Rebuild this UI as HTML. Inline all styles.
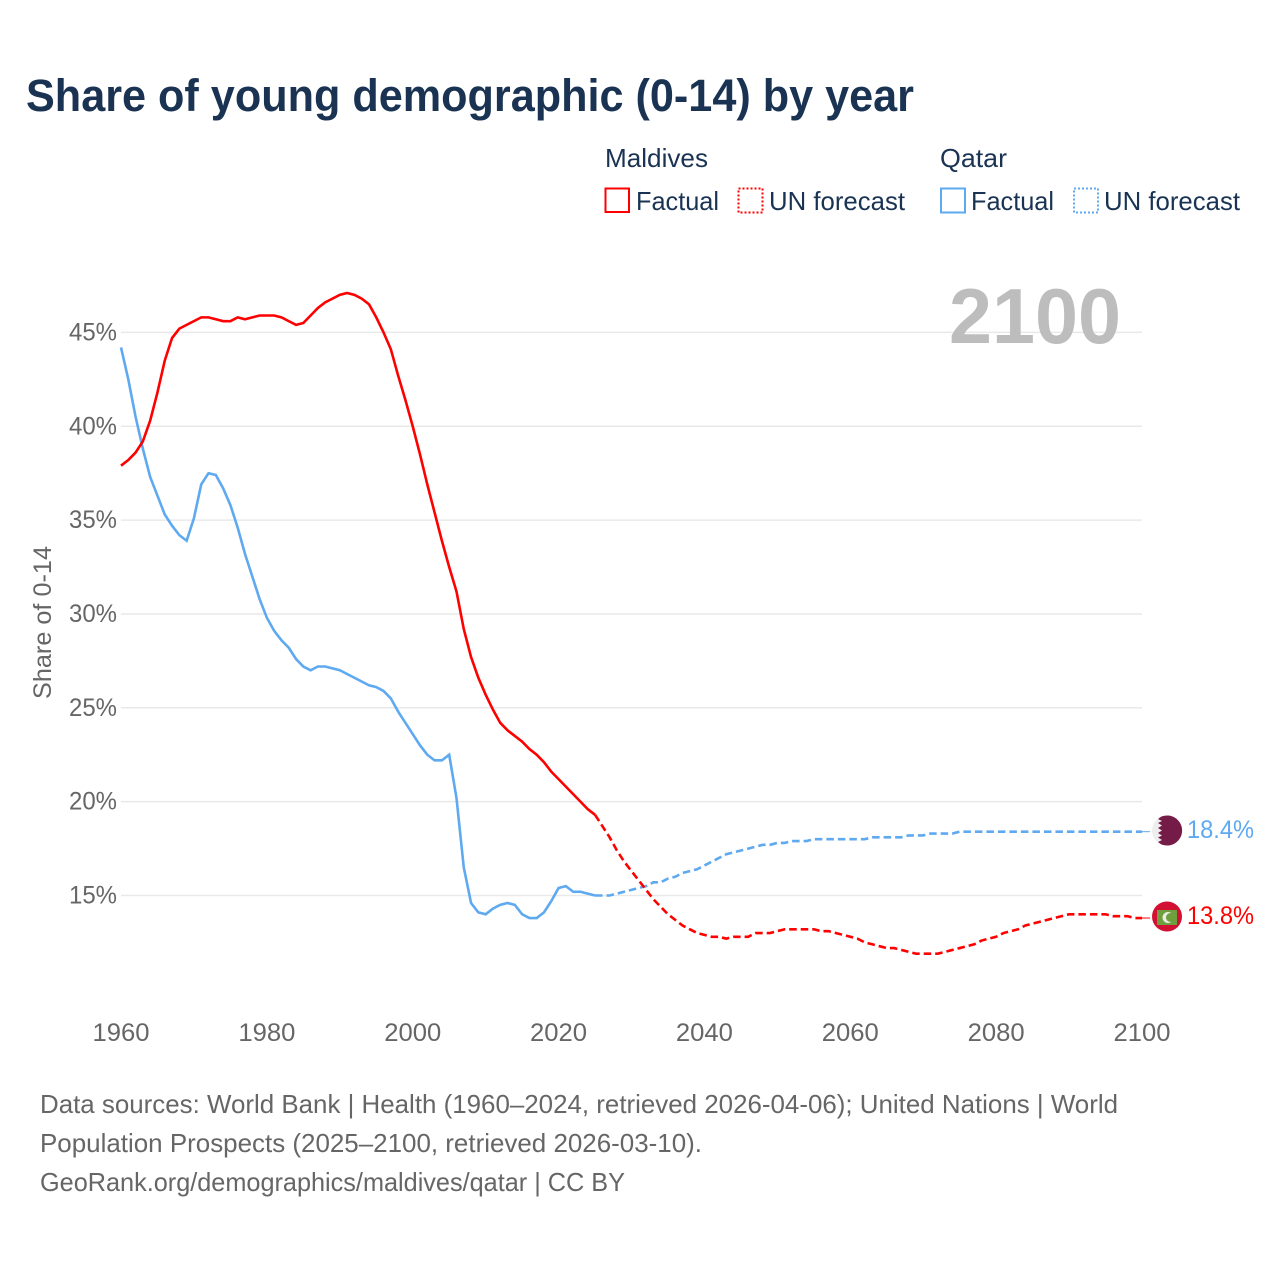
<!DOCTYPE html>
<html lang="en">
<head>
<meta charset="utf-8">
<title>Share of young demographic (0-14) by year</title>
<style>
html,body{margin:0;padding:0;background:#fff}
svg{display:block}
text{font-family:"Liberation Sans",sans-serif}
</style>
</head>
<body>
<svg id="chart" xmlns="http://www.w3.org/2000/svg" width="1280" height="1280" viewBox="0 0 1280 1280">
  <rect x="0" y="0" width="1280" height="1280" fill="#ffffff"/>
  <text x="26" y="111" font-size="45" font-weight="700" fill="#1a3353" textLength="888" lengthAdjust="spacingAndGlyphs">Share of young demographic (0-14) by year</text>

  <g>
    <text x="605" y="167" font-size="26" fill="#1a3353" textLength="103" lengthAdjust="spacingAndGlyphs">Maldives</text>
    <rect x="605.500" y="188.500" width="23.500" height="23.500" fill="none" stroke="#ff0000" stroke-width="2"/>
    <text x="636" y="210" font-size="26" fill="#1a3353" textLength="83" lengthAdjust="spacingAndGlyphs">Factual</text>
    <rect x="738.500" y="188.500" width="24" height="24" fill="none" stroke="#ff0000" stroke-width="2" stroke-dasharray="2 2"/>
    <text x="769" y="210" font-size="26" fill="#1a3353" textLength="136" lengthAdjust="spacingAndGlyphs">UN forecast</text>

    <text x="940" y="167" font-size="26" fill="#1a3353" textLength="67" lengthAdjust="spacingAndGlyphs">Qatar</text>
    <rect x="941" y="188.500" width="24" height="24" fill="none" stroke="#5ea9f0" stroke-width="2"/>
    <text x="971" y="210" font-size="26" fill="#1a3353" textLength="83" lengthAdjust="spacingAndGlyphs">Factual</text>
    <rect x="1074" y="188.500" width="24" height="24" fill="none" stroke="#5ea9f0" stroke-width="2" stroke-dasharray="2 2"/>
    <text x="1104" y="210" font-size="26" fill="#1a3353" textLength="136" lengthAdjust="spacingAndGlyphs">UN forecast</text>
  </g>

  <g id="grid"></g>
  <g id="yticks"></g>
  <g id="xticks"></g>

  <text transform="translate(51,699) rotate(-90)" font-size="25" fill="#666666" textLength="153" lengthAdjust="spacingAndGlyphs">Share of 0-14</text>
  <text x="949" y="343" font-size="78" font-weight="700" fill="#bdbdbd" textLength="172" lengthAdjust="spacingAndGlyphs">2100</text>

  <g id="series"></g>

  <g>
    <circle cx="1167" cy="830.500" r="15" fill="#eeeeee"/>
    <path d="M1161 816.800 A15 15 0 1 1 1161 844.200 L1158 842 L1162 840 L1158 837.500 L1162 835.500 L1158 833 L1162 830.500 L1158 828 L1162 825.500 L1158 823 L1162 821 L1158 819 Z" fill="#741b47"/>
  </g>
  <text x="1187" y="838" font-size="25" fill="#5ea9f0" textLength="67" lengthAdjust="spacingAndGlyphs">18.4%</text>

  <g>
    <circle cx="1167" cy="916.500" r="15" fill="#d21034"/>
    <rect x="1157" y="910" width="20" height="15" fill="#6f9e3f"/>
    <circle cx="1168" cy="917.500" r="5.500" fill="#e8eee0"/>
    <circle cx="1170.500" cy="917.500" r="4.500" fill="#6f9e3f"/>
  </g>
  <text x="1187" y="924" font-size="25" fill="#ff0000" textLength="67" lengthAdjust="spacingAndGlyphs">13.8%</text>

  <g>
    <text x="40" y="1113" font-size="26" fill="#666666" textLength="1078" lengthAdjust="spacingAndGlyphs">Data sources: World Bank | Health (1960–2024, retrieved 2026-04-06); United Nations | World</text>
    <text x="40" y="1152" font-size="26" fill="#666666" textLength="662" lengthAdjust="spacingAndGlyphs">Population Prospects (2025–2100, retrieved 2026-03-10).</text>
    <text x="40" y="1191" font-size="26" fill="#666666" textLength="585" lengthAdjust="spacingAndGlyphs">GeoRank.org/demographics/maldives/qatar | CC BY</text>
  </g>
</svg>
<script>
const yTickValues = [15, 20, 25, 30, 35, 40, 45];
const xTickYears = [1960, 1980, 2000, 2020, 2040, 2060, 2080, 2100];
const factualStartYear = 1960;
const forecastStartYear = 2025;

const maldivesFactual = [
  37.9,38.2,38.6,39.2,40.3,41.8,43.5,44.7,45.2,45.4,
  45.6,45.8,45.8,45.7,45.6,45.6,45.8,45.7,45.8,45.9,
  45.9,45.9,45.8,45.6,45.4,45.5,45.9,46.3,46.6,46.8,
  47.0,47.1,47.0,46.8,46.5,45.8,45.0,44.1,42.7,41.4,
  40.0,38.5,36.9,35.4,33.9,32.5,31.2,29.2,27.7,26.6,
  25.7,24.9,24.2,23.8,23.5,23.2,22.8,22.5,22.1,21.6,
  21.2,20.8,20.4,20.0,19.6,19.3
];
const maldivesForecast = [
  19.3,18.7,18.1,17.4,16.8,16.3,15.8,15.3,14.8,14.4,
  14.0,13.7,13.4,13.2,13.0,12.9,12.8,12.8,12.7,12.8,
  12.8,12.8,13.0,13.0,13.0,13.1,13.2,13.2,13.2,13.2,
  13.2,13.1,13.1,13.0,12.9,12.8,12.7,12.5,12.4,12.3,
  12.2,12.2,12.1,12.0,11.9,11.9,11.9,11.9,12.0,12.1,
  12.2,12.3,12.4,12.6,12.7,12.8,13.0,13.1,13.2,13.4,
  13.5,13.6,13.7,13.8,13.9,14.0,14.0,14.0,14.0,14.0,
  14.0,13.9,13.9,13.9,13.8,13.8
];
const qatarFactual = [
  44.2,42.5,40.5,38.8,37.3,36.3,35.3,34.7,34.2,33.9,
  35.1,36.9,37.5,37.4,36.7,35.8,34.6,33.2,32.0,30.8,
  29.8,29.1,28.6,28.2,27.6,27.2,27.0,27.2,27.2,27.1,
  27.0,26.8,26.6,26.4,26.2,26.1,25.9,25.5,24.8,24.2,
  23.6,23.0,22.5,22.2,22.2,22.5,20.2,16.5,14.6,14.1,
  14.0,14.3,14.5,14.6,14.5,14.0,13.8,13.8,14.1,14.7,
  15.4,15.5,15.2,15.2,15.1,15.0
];
const qatarForecast = [
  15.0,15.0,15.0,15.1,15.2,15.3,15.4,15.5,15.7,15.7,
  15.9,16.0,16.2,16.3,16.4,16.6,16.8,17.0,17.2,17.3,
  17.4,17.5,17.6,17.7,17.7,17.8,17.8,17.9,17.9,17.9,
  18.0,18.0,18.0,18.0,18.0,18.0,18.0,18.0,18.1,18.1,
  18.1,18.1,18.1,18.2,18.2,18.2,18.3,18.3,18.3,18.3,
  18.4,18.4,18.4,18.4,18.4,18.4,18.4,18.4,18.4,18.4,
  18.4,18.4,18.4,18.4,18.4,18.4,18.4,18.4,18.4,18.4,
  18.4,18.4,18.4,18.4,18.4,18.4
];

const NS = 'http://www.w3.org/2000/svg';
const PLOT_LEFT = 121;
const PLOT_RIGHT = 1142;
function xScale(year) {
  return PLOT_LEFT + (year - 1960) * (PLOT_RIGHT - PLOT_LEFT) / 140;
}
function yScale(value) {
  return 895.5 - (value - 15) * 18.77;
}
function pathFrom(values, startYear) {
  return values.map(function (v, i) {
    return (i ? 'L' : 'M') + xScale(startYear + i).toFixed(2) + ' ' + yScale(v).toFixed(2);
  }).join(' ');
}

const gridGroup = document.getElementById('grid');
const yTickGroup = document.getElementById('yticks');
yTickValues.forEach(function (v) {
  const line = document.createElementNS(NS, 'line');
  
  
  line.setAttribute('x1', PLOT_LEFT);
  line.setAttribute('x2', PLOT_RIGHT);
  line.setAttribute('y1', yScale(v));
  line.setAttribute('y2', yScale(v));
  line.setAttribute('stroke', '#e9e9e9');
  line.setAttribute('stroke-width', '1.5');
  gridGroup.appendChild(line);

  const label = document.createElementNS(NS, 'text');
  
  
  label.setAttribute('x', 117);
  label.setAttribute('y', yScale(v) + 8);
  label.setAttribute('text-anchor', 'end');
  label.setAttribute('font-size', '25');
  label.setAttribute('fill', '#666666');
  label.setAttribute('textLength', '48');
  label.setAttribute('lengthAdjust', 'spacingAndGlyphs');
  label.textContent = v + '%';
  yTickGroup.appendChild(label);
});

const xTickGroup = document.getElementById('xticks');
xTickYears.forEach(function (year) {
  const label = document.createElementNS(NS, 'text');
  
  
  label.setAttribute('x', xScale(year));
  label.setAttribute('y', 1041);
  label.setAttribute('text-anchor', 'middle');
  label.setAttribute('font-size', '25');
  label.setAttribute('fill', '#666666');
  label.setAttribute('textLength', '57');
  label.setAttribute('lengthAdjust', 'spacingAndGlyphs');
  label.textContent = year;
  xTickGroup.appendChild(label);
});

const seriesGroup = document.getElementById('series');

const qatarConnector = document.createElementNS(NS, 'line');


qatarConnector.setAttribute('x1', xScale(2100));
qatarConnector.setAttribute('x2', 1150);
qatarConnector.setAttribute('y1', yScale(qatarForecast[qatarForecast.length - 1]));
qatarConnector.setAttribute('y2', yScale(qatarForecast[qatarForecast.length - 1]));
qatarConnector.setAttribute('stroke', '#5ea9f0');
qatarConnector.setAttribute('stroke-width', '1');
seriesGroup.appendChild(qatarConnector);

const maldivesConnector = document.createElementNS(NS, 'line');


maldivesConnector.setAttribute('x1', xScale(2100));
maldivesConnector.setAttribute('x2', 1150);
maldivesConnector.setAttribute('y1', yScale(maldivesForecast[maldivesForecast.length - 1]));
maldivesConnector.setAttribute('y2', yScale(maldivesForecast[maldivesForecast.length - 1]));
maldivesConnector.setAttribute('stroke', '#ff0000');
maldivesConnector.setAttribute('stroke-width', '1');
seriesGroup.appendChild(maldivesConnector);

const qatarFactualLine = document.createElementNS(NS, 'path');


qatarFactualLine.setAttribute('d', pathFrom(qatarFactual, factualStartYear));
qatarFactualLine.setAttribute('fill', 'none');
qatarFactualLine.setAttribute('stroke', '#5ea9f0');
qatarFactualLine.setAttribute('stroke-width', '2.6');
seriesGroup.appendChild(qatarFactualLine);

const qatarForecastLine = document.createElementNS(NS, 'path');


qatarForecastLine.setAttribute('d', pathFrom(qatarForecast, forecastStartYear));
qatarForecastLine.setAttribute('fill', 'none');
qatarForecastLine.setAttribute('stroke', '#5ea9f0');
qatarForecastLine.setAttribute('stroke-width', '2.6');
qatarForecastLine.setAttribute('stroke-dasharray', '7.5 4');
seriesGroup.appendChild(qatarForecastLine);

const maldivesFactualLine = document.createElementNS(NS, 'path');


maldivesFactualLine.setAttribute('d', pathFrom(maldivesFactual, factualStartYear));
maldivesFactualLine.setAttribute('fill', 'none');
maldivesFactualLine.setAttribute('stroke', '#ff0000');
maldivesFactualLine.setAttribute('stroke-width', '2.6');
seriesGroup.appendChild(maldivesFactualLine);

const maldivesForecastLine = document.createElementNS(NS, 'path');


maldivesForecastLine.setAttribute('d', pathFrom(maldivesForecast, forecastStartYear));
maldivesForecastLine.setAttribute('fill', 'none');
maldivesForecastLine.setAttribute('stroke', '#ff0000');
maldivesForecastLine.setAttribute('stroke-width', '2.6');
maldivesForecastLine.setAttribute('stroke-dasharray', '7.5 4');
seriesGroup.appendChild(maldivesForecastLine);
</script>
</body>
</html>
